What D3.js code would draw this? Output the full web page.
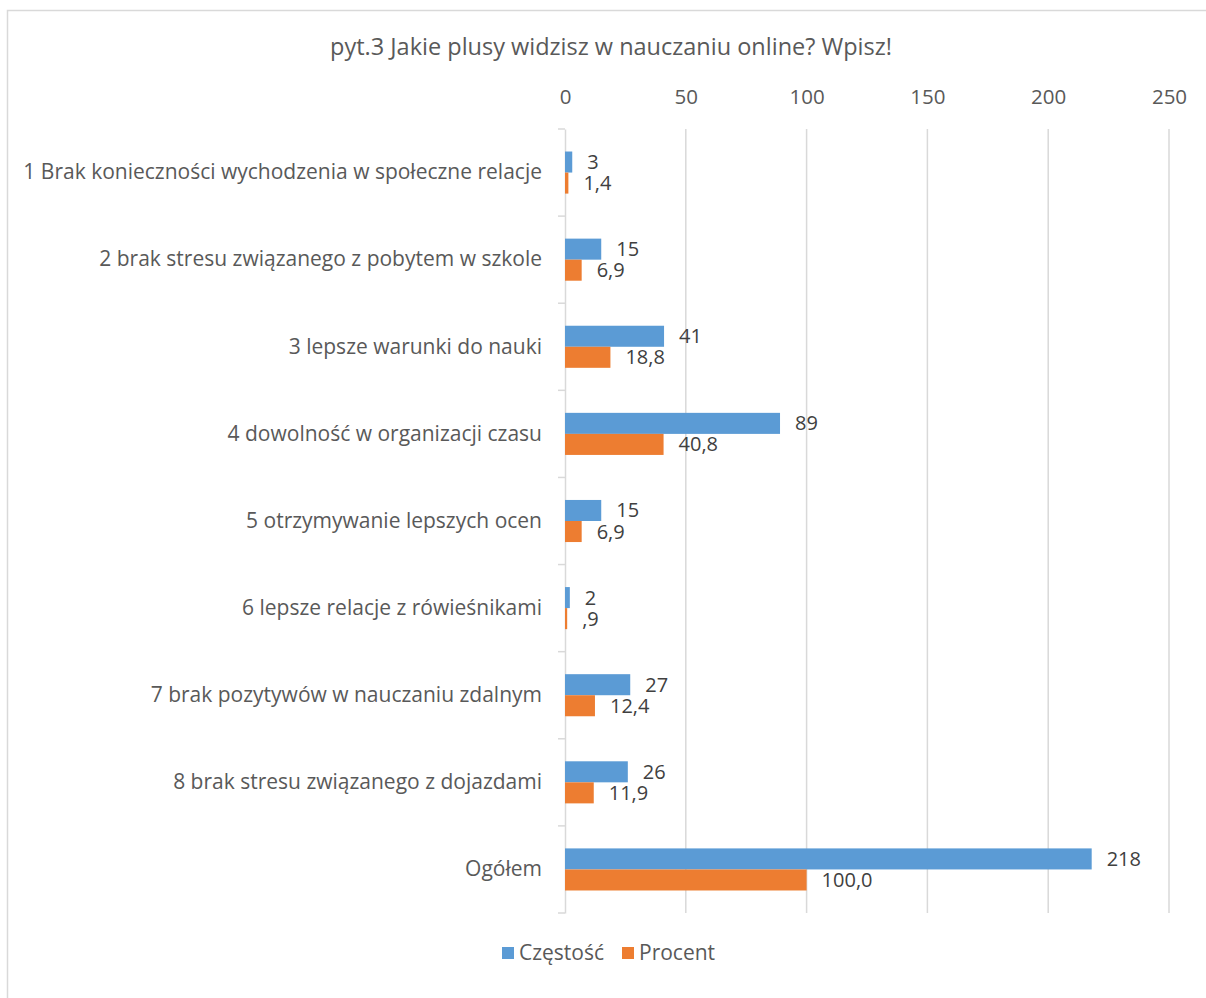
<!DOCTYPE html>
<html><head><meta charset="utf-8">
<script src="https://cdn.jsdelivr.net/npm/d3@7"></script>
<style>body{margin:0;background:#fff}svg{display:block}text{font-family:"Open Sans",sans-serif}</style>
</head><body>
<svg id="c" width="1206" height="998"></svg>
<script>
const categories = [
  "1 Brak konieczności wychodzenia w społeczne relacje",
  "2 brak stresu związanego z pobytem w szkole",
  "3 lepsze warunki do nauki",
  "4 dowolność w organizacji czasu",
  "5 otrzymywanie lepszych ocen",
  "6 lepsze relacje z rówieśnikami",
  "7 brak pozytywów w nauczaniu zdalnym",
  "8 brak stresu związanego z dojazdami",
  "Ogółem"
];
const seriesNames = ["Częstość", "Procent"];
const czestosc = [3, 15, 41, 89, 15, 2, 27, 26, 218];
const procent = [1.4, 6.9, 18.8, 40.8, 6.9, 0.9, 12.4, 11.9, 100.0];
const xTicks = [0, 50, 100, 150, 200, 250];
const colors = ["#5B9BD5", "#ED7D31"];
const title = "pyt.3 Jakie plusy widzisz w nauczaniu online? Wpisz!";

const FONT = "Open Sans";
const svg = d3.select("#c");
svg.append("rect").attr("x",7.5).attr("y",10.5).attr("width",1300).attr("height",1100)
  .attr("fill","#fff").attr("stroke","#d9d9d9").attr("stroke-width",1.5);

const x = d3.scaleLinear().domain([0,250]).range([565,1169]);
const y0 = d3.scaleBand().domain(categories).range([129,913]);
const y1 = d3.scaleBand().domain(seriesNames).range([0,y0.bandwidth()]).paddingInner(0).paddingOuter(1.07);

svg.append("g").selectAll("line").data(xTicks.filter(t=>t>0)).join("line")
  .attr("x1",d=>x(d)).attr("x2",d=>x(d)).attr("y1",129).attr("y2",913)
  .attr("stroke","#d9d9d9").attr("stroke-width",1.5);

const xa = svg.append("g").attr("transform","translate(0,97)")
  .call(d3.axisTop(x).tickValues(xTicks).tickSize(0).tickPadding(0));
xa.select(".domain").remove();
xa.selectAll("text").attr("font-size",20.5).attr("fill","#595959").attr("dy","0.35em").attr("font-family",FONT);

const ya = svg.append("g").attr("transform","translate(565,0)")
  .call(d3.axisLeft(y0).tickSize(0).tickPadding(23));
ya.select(".domain").attr("stroke","#d9d9d9").attr("stroke-width",1.5);
ya.selectAll("text").attr("font-size",21).attr("fill","#595959").attr("font-family",FONT);
const bounds = categories.map(c=>y0(c)).concat([913]);
svg.append("g").selectAll("line").data(bounds).join("line")
  .attr("x1",558).attr("x2",565).attr("y1",d=>d).attr("y2",d=>d)
  .attr("stroke","#d9d9d9").attr("stroke-width",1.5);

const fmtP = v => { let s = d3.format(".1f")(v).replace(".", ","); return s.startsWith("0,") ? s.slice(1) : s; };
const rows = categories.map((c,i)=>({c, vals:[{s:seriesNames[0],v:czestosc[i],t:String(czestosc[i])},{s:seriesNames[1],v:procent[i],t:fmtP(procent[i])}]}));

const g = svg.append("g").selectAll("g").data(rows).join("g")
  .attr("transform",d=>`translate(0,${y0(d.c)})`);
g.selectAll("rect").data(d=>d.vals).join("rect")
  .attr("x",x(0)).attr("y",d=>y1(d.s)).attr("height",y1.bandwidth())
  .attr("width",d=>x(d.v)-x(0)).attr("fill",(d,i)=>colors[i]);
g.selectAll("text").data(d=>d.vals).join("text")
  .attr("x",d=>x(d.v)+15).attr("y",d=>y1(d.s)+y1.bandwidth()/2).attr("dy","0.35em")
  .attr("font-size",20).attr("fill","#404040").text(d=>d.t);

svg.append("text").attr("x",611).attr("y",47).attr("dy","0.35em").attr("text-anchor","middle")
  .attr("font-size",23.5).attr("fill","#595959").text(title);

const lg = svg.append("g").selectAll("g").data(seriesNames).join("g")
  .attr("transform",(d,i)=>`translate(${i?622:502},953)`);
lg.append("rect").attr("x",0).attr("y",-6).attr("width",12).attr("height",12).attr("fill",(d,i)=>colors[i]);
lg.append("text").attr("x",17).attr("dy","0.35em").attr("font-size",21).attr("fill","#595959").text(d=>d);
</script>
</body></html>
